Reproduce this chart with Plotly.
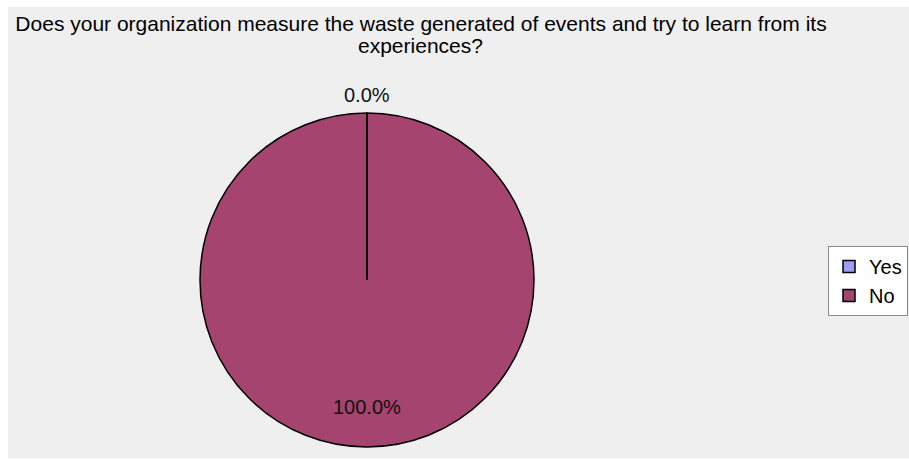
import math
import plotly.graph_objects as go

labels = ["Yes", "No"]
values = [0, 100]
colors = ["#9d9df2", "#a4446f"]
title_lines = ["Does your organization measure the waste generated of events and try to learn from its",
               "experiences?"]

W, H = 909, 460
cx, cy, r = 367, 280, 167
FONT = "Liberation Sans, Arial, Helvetica, sans-serif"

fig = go.Figure()
fig.add_trace(go.Pie(
    labels=labels, values=values, sort=False, direction="clockwise", rotation=0,
    marker=dict(colors=colors, line=dict(color="#000000", width=1.5)),
    textinfo="none",
    domain=dict(x=[(cx - r) / W, (cx + r) / W], y=[1 - (cy + r) / H, 1 - (cy - r) / H]),
    hoverinfo="label+percent",
))

total = sum(values)
annotations = []
shapes = [dict(type="rect", xref="paper", yref="paper", x0=8 / W, x1=1, y0=2 / H, y1=1 - 7 / H,
               fillcolor="#efefef", line=dict(width=0), layer="below")]
cum = 0.0
for lab, v in zip(labels, values):
    frac = v / total
    a0 = 2 * math.pi * cum
    # slice boundary line (radial edge at slice start)
    shapes.append(dict(type="line", xref="paper", yref="paper",
                       x0=cx / W, y0=1 - cy / H,
                       x1=(cx + r * math.sin(a0)) / W, y1=1 - (cy - r * math.cos(a0)) / H,
                       line=dict(color="#000000", width=1.5), layer="above"))
    amid = 2 * math.pi * (cum + frac / 2)
    rr = r * (1.11 if frac < 0.05 else 0.76)
    annotations.append(dict(text=f"{frac:.1%}", xref="paper", yref="paper",
                            x=(cx + rr * math.sin(amid)) / W, y=1 - (cy - rr * math.cos(amid)) / H,
                            xanchor="center", yanchor="middle", showarrow=False,
                            font=dict(family=FONT, size=20, color="#111111")))
    cum += frac

annotations.append(dict(text=title_lines[1], xref="paper", yref="paper", x=420 / W, y=1 - 46 / H,
                        xanchor="center", yanchor="middle", showarrow=False,
                        font=dict(family=FONT, size=21, color="#000000")))

fig.update_layout(
    width=W, height=H,
    margin=dict(l=0, r=0, t=0, b=0),
    paper_bgcolor="#ffffff",
    plot_bgcolor="#efefef",
    font=dict(family=FONT, size=20, color="#000000"),
    title=dict(text=title_lines[0], x=421 / W, xanchor="center", y=1 - 24 / H, yanchor="middle",
               font=dict(family=FONT, size=21, color="#000000")),
    legend=dict(x=1 - 1 / W, xanchor="right", y=1 - 281 / H, yanchor="middle",
                bgcolor="#ffffff", bordercolor="#8a8a8a", borderwidth=1,
                font=dict(family=FONT, size=20), itemwidth=30, tracegroupgap=0),
    shapes=shapes,
    annotations=annotations,
)

fig.write_html("out.html", config={"displayModeBar": False},
               post_script="document.body.style.margin='0';document.body.style.overflow='hidden';")
